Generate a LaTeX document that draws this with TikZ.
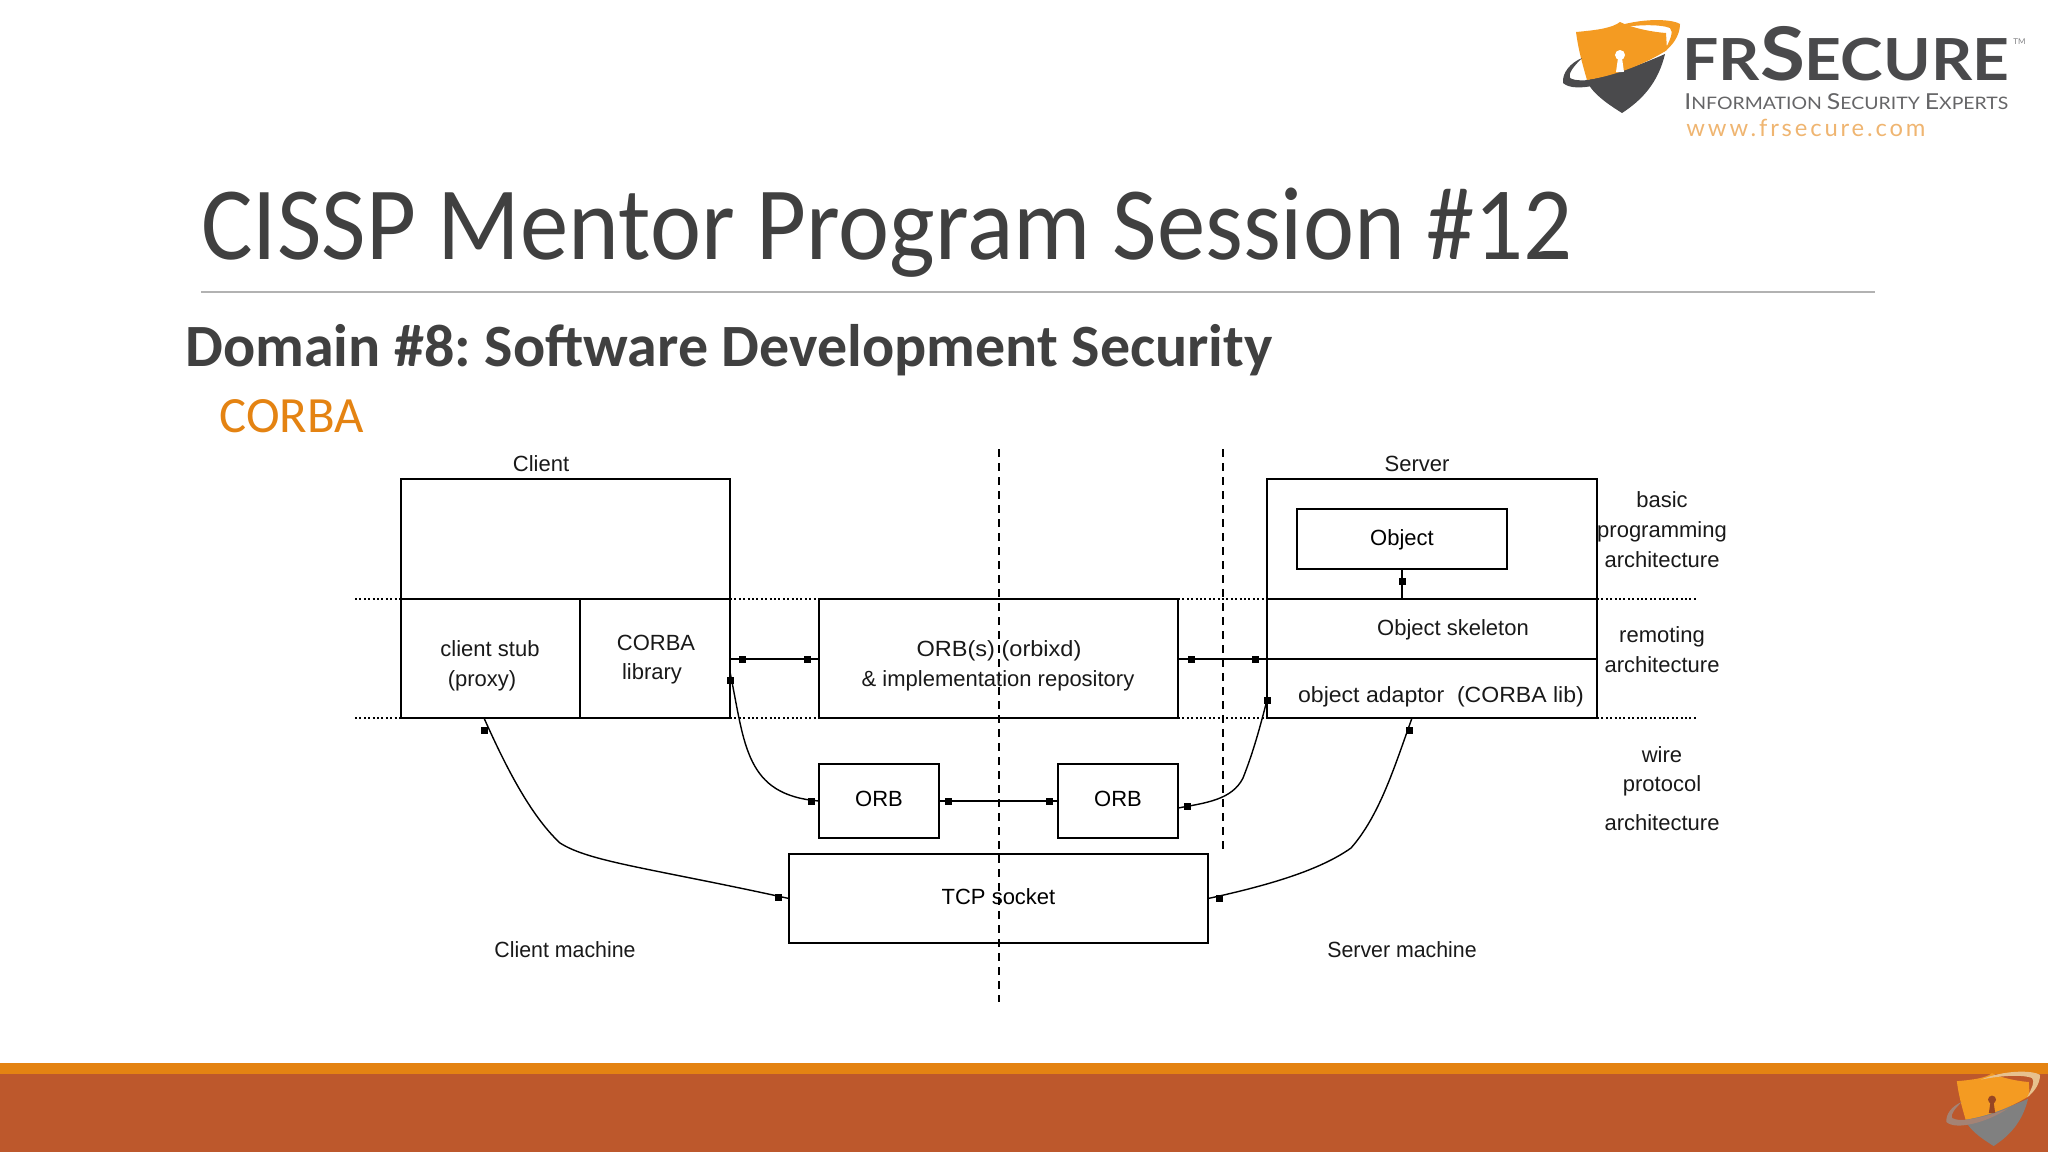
\documentclass[tikz,border=0pt]{standalone}
\usepackage{fontspec}
\usepackage{xcolor}
\setmainfont{Carlito}
\newfontfamily\boxfont{Liberation Sans}
\newfontfamily\logofont{Lato}
\definecolor{slidegray}{HTML}{404040}
\definecolor{slideorange}{HTML}{E48312}
\definecolor{sliderust}{HTML}{BD582C}
\definecolor{logogray}{HTML}{4A4A4C}
\definecolor{logoorange}{HTML}{F49B22}
\colorlet{shieldlow}{logogray}
\colorlet{shieldhole}{white}
\colorlet{ringlow}{logogray}
\colorlet{ringhigh}{logoorange}
\frenchspacing
\tikzset{
  cell/.style={draw, line width=0.9pt, inner sep=0pt, outer sep=0pt, anchor=north west, font=\boxfont\fontsize{11}{13}\selectfont},
  lbl/.style={inner sep=0pt, font=\boxfont\fontsize{11}{13}\selectfont, text=black!90},
  squaretip/.style={fill=black, inner sep=0pt, minimum size=3.5pt},
  wire/.style={line width=0.7pt},
  link/.style={line width=1pt},
  layerline/.style={line width=0.8pt, dash pattern=on 1pt off 1.2pt},
  machineline/.style={line width=0.7pt, dash pattern=on 4pt off 3pt},
  shieldlogo/.pic={
    \fill[shieldlow] (-34,12) .. controls (-10,8) and (25,-5) .. (45,-14)
      .. controls (38,15) and (22,32) .. (2,45) .. controls (-14,35) and (-28,25) .. (-34,12) -- cycle;
    \fill[logoorange] (-44,-36) .. controls (-22,-38) and (-8,-40) .. (0,-46)
      .. controls (12,-40) and (32,-36) .. (46,-35) -- (47,-18)
      .. controls (22,-2) and (-8,8) .. (-33,12) .. controls (-38,-5) and (-42,-20) .. (-44,-36) -- cycle;
    \fill[shieldhole] (0,-13) circle (5) (-2,-10) -- (2,-10) -- (4,4) -- (-4,4) -- cycle;
    \fill[ringlow] (-57,15) .. controls (-58,5) and (-50,-5) .. (-38,-10)
      .. controls (-46,-2) and (-52,5) .. (-50,10) .. controls (-40,16) and (-10,10) .. (20,-2)
      .. controls (-5,15) and (-45,26) .. (-57,15) -- cycle;
    \fill[ringhigh] (-14,-38) .. controls (15,-50) and (50,-50) .. (60,-44)
      .. controls (60,-32) and (52,-22) .. (44,-16) .. controls (50,-28) and (54,-36) .. (50,-40)
      .. controls (40,-44) and (15,-44) .. (-14,-38) -- cycle;
  }
}
\begin{document}
\begin{tikzpicture}[x=0.5pt, y=-0.5pt]
  \useasboundingbox (0,0) rectangle (2048,1152);
  % footer
  \fill[sliderust] (0,1074) rectangle (2048,1152);
  \fill[slideorange] (0,1063) rectangle (2048,1074);
  \begin{scope}
    \colorlet{shieldlow}{black!50}
    \colorlet{shieldhole}{sliderust!80!black}
    \colorlet{ringlow}{black!45!sliderust!60!white}
    \colorlet{ringhigh}{logoorange!50!white!85!gray}
    \pic[scale=0.8] at (1992,1110) {shieldlogo};
  \end{scope}
  % logo
  \pic at (1620,68) {shieldlogo};
  \node[anchor=base west, inner sep=0pt, text=logogray, font=\logofont\bfseries] (brand) at (1682,80)
    {\scalebox{1.107}[1]{\fontsize{29}{29}\selectfont FR\fontsize{37}{37}\selectfont S\fontsize{29}{29}\selectfont ECURE}};
  \node[anchor=base west, inner sep=0pt, text=logogray!85, font=\logofont] (tagline) at (1684,109)
    {\scalebox{1.13}[1]{\fontsize{11}{11}\selectfont I\fontsize{8.6}{11}\selectfont NFORMATION \fontsize{11}{11}\selectfont S\fontsize{8.6}{11}\selectfont ECURITY \fontsize{11}{11}\selectfont E\fontsize{8.6}{11}\selectfont XPERTS}};
  \node[anchor=base west, inner sep=0pt, text=slideorange!60, font=\logofont\fontsize{11.9}{12}\selectfont] (website) at (1686,136)
    {\addfontfeature{LetterSpace=12}www.frsecure.com};
  \node[anchor=base west, inner sep=0pt, text=logogray!70, font=\logofont\fontsize{4}{4}\selectfont] (trademark) at (2013,44) {TM};
  % heading
  \node[anchor=base west, inner sep=0pt, text=slidegray, font=\fontsize{52}{56}\selectfont] (title) at (201,259) {\scalebox{0.93}[1]{CISSP Mentor Program Session \#12}};
  \draw[line width=0.6pt, black!30] (201,292) -- (1875,292);
  \node[anchor=base west, inner sep=0pt, text=slidegray, font=\bfseries\fontsize{30}{32}\selectfont] (domain) at (185,366) {Domain \#8: Software Development Security};
  \node[anchor=base west, inner sep=0pt, text=slideorange, font=\fontsize{25.4}{28}\selectfont] (corba) at (219,432) {CORBA};
  % layers
  \draw[layerline] (355,599) -- (401,599) (730,599) -- (819,599) (1178,599) -- (1267,599) (1597,599) -- (1698,599);
  \draw[layerline] (355,718) -- (401,718) (730,718) -- (819,718) (1178,718) -- (1267,718) (1597,718) -- (1698,718);
  % client
  \node[cell, minimum width=164.5pt, minimum height=60pt] (clienttop) at (401,479) {};
  \node[cell, minimum width=89.5pt, minimum height=59.5pt] (stub) at (401,599) {};
  \node[cell, minimum width=75pt, minimum height=59.5pt] (lib) at (580,599) {};
  % orb daemon
  \node[cell, minimum width=179.5pt, minimum height=59.5pt] (daemon) at (819,599) {};
  % server
  \node[cell, minimum width=165pt, minimum height=60pt] (servertop) at (1267,479) {};
  \node[cell, minimum width=105pt, minimum height=30pt, anchor=center, text depth=1pt] (object) at (1402,539) {Object};
  \node[cell, minimum width=165pt, minimum height=30pt] (skeleton) at (1267,599) {};
  \node[cell, minimum width=165pt, minimum height=29.5pt] (adaptor) at (1267,659) {};
  % wire level
  \node[cell, minimum width=60pt, minimum height=37pt, text depth=2pt] (orbleft) at (819,764) {ORB};
  \node[cell, minimum width=60pt, minimum height=37pt, text depth=2pt] (orbright) at (1058,764) {ORB};
  \node[cell, minimum width=209.5pt, minimum height=44.5pt, text depth=2pt] (tcp) at (789,854) {TCP socket};
  % machine boundaries
  \coordinate (bounda) at (999,449);
  \coordinate (boundb) at (999,1002);
  \coordinate (boundc) at (1223,449);
  \coordinate (boundd) at (1223,852);
  \draw[machineline] (bounda) -- (boundb);
  \draw[machineline] (boundc) -- (boundd);
  % connectors
  \draw[link] (lib.east |- daemon.west) -- (daemon.west);
  \draw[link] (daemon.east) -- (daemon.east -| skeleton.west);
  \draw[link] (orbleft.east |- 0,801) -- (orbright.west |- 0,801);
  \draw[link] (object.south) -- (object.south |- skeleton.north);
  \draw[wire] (730,672) .. controls (745,745) and (745,795) .. (819,801);
  \draw[wire] (1178,808) .. controls (1205,803) and (1232,800) .. (1243,778) .. controls (1252,755) and (1258,735) .. (1267,700);
  \draw[wire] (tcp.west) .. controls (650,868) and (590,862) .. (560,843) .. controls (530,815) and (505,765) .. (484,718);
  \draw[wire] (tcp.east) .. controls (1270,885) and (1320,870) .. (1351,848) .. controls (1380,815) and (1395,765) .. (1412,718);
  % square ends
  \foreach \i/\x/\y in {a/742/659, b/807/659, c/1191/659, d/1255/659, e/730/680, f/811/801, g/948/801, h/1049/801, j/1187/806, k/1267/700, l/1402/581, m/484/730, n/1409/730, o/778/897, p/1219/898}
    \node[squaretip] (tip\i) at (\x,\y) {};
  % labels
  \node[lbl] (clientlbl) at (541,464) {Client};
  \node[lbl] (serverlbl) at (1417,464) {Server};
  \node[lbl] (stubtext) at (490,649) {client stub};
  \node[lbl] (proxytext) at (482,681) {(proxy)};
  \node[lbl] (libtext) at (656,643) {CORBA};
  \node[lbl] (libtextb) at (652,674) {library};
  \node[lbl] (daemontext) at (999,651) {\scalebox{1.07}[1]{ORB(s) (orbixd)}};
  \node[lbl] (daemontextb) at (998,681) {\&\ implementation repository};
  \node[lbl] (skeltext) at (1453,630) {Object skeleton};
  \node[lbl] (adapttext) at (1441,697) {\scalebox{1.048}[1]{object adaptor\ \ (CORBA lib)}};
  \node[lbl] (basictext) at (1662,500) {basic};
  \node[lbl] (basictextb) at (1662,532) {programming};
  \node[lbl] (basictextc) at (1662,560) {architecture};
  \node[lbl] (remotetext) at (1662,637) {remoting};
  \node[lbl] (remotetextb) at (1662,665) {architecture};
  \node[lbl] (wiretext) at (1662,755) {wire};
  \node[lbl] (wiretextb) at (1662,786) {protocol};
  \node[lbl] (wiretextc) at (1662,823) {architecture};
  \node[lbl] (clientmach) at (565,950) {\scalebox{0.97}[1]{Client machine}};
  \node[lbl] (servermach) at (1402,950) {\scalebox{0.97}[1]{Server machine}};
\end{tikzpicture}
\end{document}
